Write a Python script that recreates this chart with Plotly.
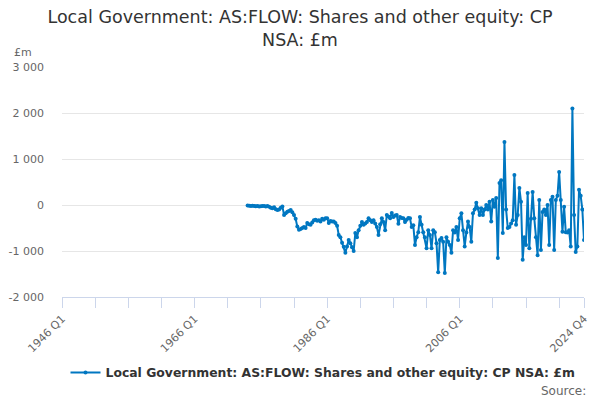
import plotly.graph_objects as go

# quarterly series, 1974 Q1 .. 2024 Q4 (£m)
first_year = 1974
last_year = 2024
values = [
    -10, -15, -20, -15,
    -20, -25, -20, -30,
    -25, -20, -20, -30,
    -20, -40, -60, -70,
    -50, -90, -110, -100,
    -60, -30, -220, -180,
    -145, -130, -110, -160,
    -220, -300, -470, -540,
    -520, -500, -480, -500,
    -390, -420, -430, -380,
    -330, -320, -340, -330,
    -360, -300, -320, -290,
    -290, -390, -350, -360,
    -360, -390, -450, -650,
    -700, -820, -910, -1040,
    -900, -760, -830, -920,
    -1000, -610, -700, -550,
    -450, -370, -430, -400,
    -370, -290, -330, -370,
    -330, -400, -480, -650,
    -420, -290, -370, -550,
    -220, -250, -290, -175,
    -260, -230, -220, -410,
    -260, -280, -290, -370,
    -320, -280, -290, -480,
    -440, -870, -700, -590,
    -260, -430, -590, -700,
    -940, -550, -650, -940,
    -550, -590, -830, -1460,
    -760, -720, -800, -1480,
    -700, -800, -870, -1040,
    -550, -600, -480, -760,
    -290, -180, -550, -900,
    -600, -360, -480, -800,
    -180, -100, 50, -70,
    -220, -70, -220, -100,
    0, -100, 70, -360,
    110, -40, 150, -1150,
    480, 540, -610, 1370,
    -100, -500, -480, -400,
    -330, 650, -430, -220,
    370, 70, -1190, -700,
    -870, 260, -940, -300,
    280, -290, -700, -1090,
    110, -980, -150, -100,
    -220, 0, -870, 110,
    180, -980, 110, 200,
    720, 110, -580, -40,
    -590, -600, -550, -900,
    2100, -220, -1020, -900,
    330, 200, -100, -760,
]

axis_start_year = 1946
tick_labels = ["1946 Q1", "1966 Q1", "1986 Q1", "2006 Q1", "2024 Q4"]
y_ticks = [-2000, -1000, 0, 1000, 2000, 3000]
series_name = "Local Government: AS:FLOW: Shares and other equity: CP NSA: £m"

quarters = [f"{y} Q{q}" for y in range(axis_start_year, last_year + 1) for q in range(1, 5)]
data_quarters = [f"{y} Q{q}" for y in range(first_year, last_year + 1) for q in range(1, 5)]

tick_vals = quarters[::20] + [quarters[-1]]
tick_text = [q if q in tick_labels else "" for q in tick_vals]
# plain hyphen and space thousands, like the original
y_text = [f"{v:,}".replace(",", " ") for v in y_ticks]

blue = "rgb(0,119,193)"
grey = "#666666"

fig = go.Figure()
# empty trace so the axis holds every quarter from 1946
fig.add_trace(go.Scatter(x=quarters, y=[None] * len(quarters), mode="lines",
                         showlegend=False, hoverinfo="skip"))
fig.add_trace(go.Scatter(x=data_quarters, y=values, name=series_name,
                         mode="lines+markers",
                         line=dict(color=blue, width=2),
                         marker=dict(color=blue, size=4)))

fig.update_layout(
    width=600, height=400,
    margin=dict(l=62, r=16, t=67, b=103),
    paper_bgcolor="white", plot_bgcolor="white",
    font=dict(family="DejaVu Sans", color="#333333"),
    title=dict(text="Local Government: AS:FLOW: Shares and other equity: CP<br>NSA: £m",
               x=0.5, xanchor="center", yref="container", y=0.9425, yanchor="top",
               font=dict(size=17.5, color="#333333")),
    showlegend=True,
    legend=dict(orientation="h", x=0.5, xanchor="center", y=-0.33, yanchor="middle",
                font=dict(size=12.4, color="#333333", weight="bold")),
    xaxis=dict(type="category", categoryorder="array", categoryarray=quarters,
               range=[0, len(quarters) - 1], automargin=False,
               tickmode="array", tickvals=tick_vals, ticktext=tick_text,
               tickangle=-45, tickfont=dict(size=11, color=grey),
               showline=True, linecolor="#ccd6eb", linewidth=1,
               ticks="outside", ticklen=10, tickcolor="#ccd6eb",
               showgrid=False, zeroline=False),
    yaxis=dict(range=[-2000, 3000], automargin=False,
               tickmode="array", tickvals=y_ticks, ticktext=y_text,
               tickfont=dict(size=11, color=grey),
               gridcolor="#e6e6e6", zeroline=False, showline=False,
               ticklabelstandoff=17),
    annotations=[
        dict(text="£m", xref="paper", yref="paper", x=-0.096, y=1.065,
             xanchor="left", yanchor="middle", showarrow=False,
             font=dict(size=11, color=grey)),
        dict(text="Source:", xref="paper", yref="paper", x=1.008, y=-0.41,
             xanchor="right", yanchor="middle", showarrow=False,
             font=dict(size=12, color=grey)),
    ],
)

# drop the default page margin so the chart sits at the window's corner
fig.write_html("out.html", config={"displayModeBar": False},
               post_script="document.body.style.margin='0';")
